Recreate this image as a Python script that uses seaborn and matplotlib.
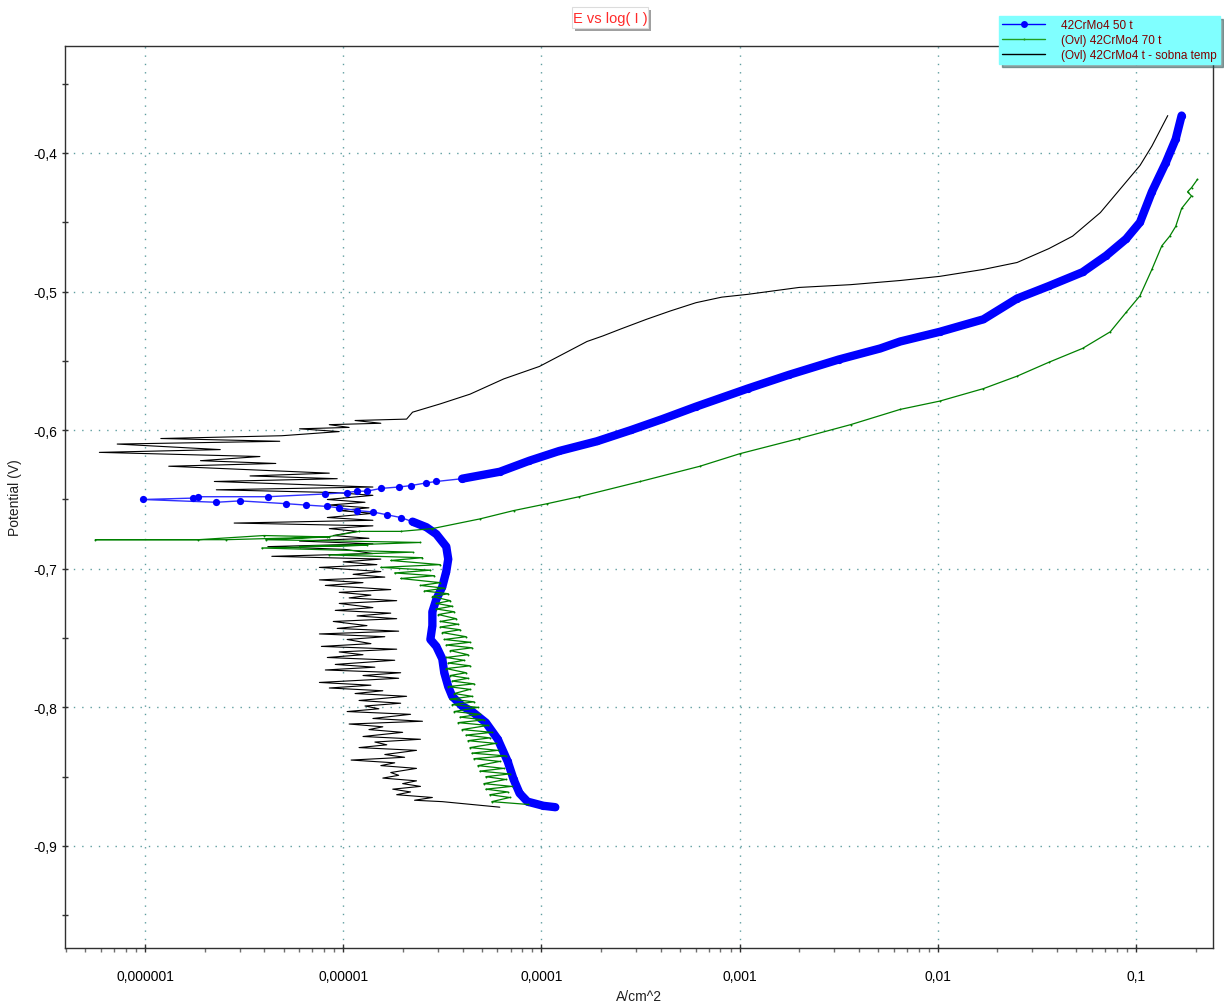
import numpy as np
import matplotlib
matplotlib.use("Agg")
import matplotlib.pyplot as plt
import seaborn as sns
from matplotlib.lines import Line2D
from matplotlib.patches import Rectangle
from matplotlib.ticker import FixedLocator, FixedFormatter, LogLocator, MultipleLocator, NullFormatter

# ---------------- data (log10 of current density in A/cm^2, potential in V) ----------------
blue_cath_logi = [-3.93, -3.99, -4.07, -4.11, -4.14, -4.17, -4.22, -4.28, -4.35, -4.40,
                  -4.45, -4.47, -4.49, -4.50, -4.53, -4.56, -4.55, -4.55, -4.53, -4.50,
                  -4.48, -4.47, -4.48, -4.53, -4.58, -4.65, -4.71, -4.78, -4.85, -4.93,
                  -5.02, -5.08, -5.19, -5.29, -5.52, -5.64, -6.01]
blue_cath_e = [-0.872, -0.871, -0.868, -0.862, -0.852, -0.839, -0.823, -0.811, -0.803, -0.799,
               -0.792, -0.785, -0.775, -0.765, -0.756, -0.751, -0.741, -0.731, -0.722, -0.713,
               -0.702, -0.693, -0.684, -0.675, -0.670, -0.666, -0.663, -0.661, -0.659, -0.658,
               -0.656, -0.655, -0.654, -0.653, -0.651, -0.652, -0.650]
blue_anod_logi = [-5.76, -5.73, -5.38, -5.09, -4.98, -4.93, -4.88, -4.81, -4.72, -4.66,
                  -4.58, -4.53, -4.40, -4.21, -4.06, -3.91, -3.72, -3.55, -3.39, -3.22,
                  -2.96, -2.75, -2.50, -2.29, -2.19, -1.99, -1.77, -1.60, -1.44, -1.27,
                  -1.15, -1.05, -0.98, -0.92, -0.85, -0.80, -0.77]
blue_anod_e = [-0.649, -0.648, -0.648, -0.646, -0.645, -0.644, -0.644, -0.642, -0.641, -0.640,
               -0.638, -0.637, -0.635, -0.630, -0.622, -0.615, -0.608, -0.600, -0.592, -0.583,
               -0.570, -0.560, -0.549, -0.541, -0.536, -0.529, -0.520, -0.505, -0.496, -0.486,
               -0.474, -0.462, -0.450, -0.428, -0.407, -0.390, -0.373]

green_logi = [-4.07, -4.25, -4.16, -4.26, -4.17, -4.28, -4.15, -4.29, -4.18, -4.28,
              -4.16, -4.31, -4.19, -4.32, -4.21, -4.34, -4.18, -4.35, -4.22, -4.36,
              -4.23, -4.37, -4.26, -4.38, -4.25, -4.40, -4.27, -4.42, -4.29, -4.41,
              -4.31, -4.44, -4.32, -4.45, -4.34, -4.46, -4.35, -4.44, -4.36, -4.47,
              -4.34, -4.45, -4.37, -4.46, -4.38, -4.48, -4.36, -4.47, -4.39, -4.48,
              -4.37, -4.46, -4.35, -4.48, -4.36, -4.49, -4.38, -4.50, -4.41, -4.51,
              -4.42, -4.51, -4.43, -4.52, -4.44, -4.53, -4.45, -4.53, -4.46, -4.55,
              -4.47, -4.59, -4.49, -4.61, -4.51, -4.71, -4.54, -4.74, -4.56, -4.81,
              -4.51, -4.76, -4.60, -5.07, -4.65, -5.41, -4.88, -5.22, -4.61, -5.39,
              -5.07, -5.59, -6.25, -5.73,
              -5.40, -5.08, -4.92, -4.71, -4.55, -4.31, -4.14, -3.97, -3.81, -3.50,
              -3.20, -3.00, -2.70, -2.44, -2.19, -1.99, -1.77, -1.60, -1.44, -1.27,
              -1.13, -1.05, -0.98, -0.92, -0.87, -0.83, -0.80, -0.77, -0.72, -0.74,
              -0.72, -0.69]
green_e = [-0.870, -0.868, -0.865, -0.863, -0.861, -0.859, -0.857, -0.855, -0.852, -0.850,
           -0.848, -0.846, -0.844, -0.842, -0.839, -0.837, -0.835, -0.833, -0.831, -0.829,
           -0.826, -0.824, -0.822, -0.820, -0.818, -0.816, -0.813, -0.811, -0.809, -0.807,
           -0.805, -0.803, -0.800, -0.798, -0.796, -0.794, -0.792, -0.790, -0.787, -0.785,
           -0.783, -0.781, -0.779, -0.777, -0.775, -0.772, -0.770, -0.768, -0.766, -0.764,
           -0.762, -0.759, -0.757, -0.755, -0.753, -0.751, -0.749, -0.746, -0.744, -0.742,
           -0.740, -0.738, -0.736, -0.733, -0.731, -0.729, -0.727, -0.725, -0.723, -0.720,
           -0.718, -0.716, -0.714, -0.712, -0.710, -0.707, -0.705, -0.703, -0.701, -0.699,
           -0.697, -0.694, -0.692, -0.690, -0.688, -0.685, -0.683, -0.684, -0.681, -0.679,
           -0.677, -0.679, -0.679, -0.679,
           -0.676, -0.677, -0.673, -0.673, -0.671, -0.664, -0.658, -0.653, -0.648, -0.637,
           -0.626, -0.617, -0.606, -0.596, -0.585, -0.579, -0.570, -0.561, -0.551, -0.541,
           -0.529, -0.515, -0.503, -0.484, -0.467, -0.460, -0.453, -0.440, -0.431, -0.428,
           -0.425, -0.419]

black_logi = [-4.21, -4.50, -4.64, -4.55, -4.73, -4.66, -4.75, -4.61, -4.70, -4.63,
              -4.80, -4.72, -4.76, -4.63, -4.81, -4.74, -4.96, -4.69, -4.79, -4.63,
              -4.92, -4.78, -4.84, -4.61, -4.90, -4.70, -4.87, -4.80, -4.97, -4.60,
              -4.85, -4.66, -4.98, -4.82, -4.89, -4.71, -4.92, -4.68, -4.94, -4.80,
              -5.07, -4.86, -5.12, -4.72, -4.90, -4.71, -5.09, -4.84, -5.04, -4.74,
              -5.08, -4.90, -5.02, -4.73, -5.11, -4.86, -4.98, -4.79, -5.12, -4.72,
              -5.03, -4.88, -5.05, -4.73, -4.93, -4.76, -5.04, -4.85, -5.02, -4.73,
              -4.97, -4.86, -5.02, -4.76, -5.09, -4.90, -5.12, -4.79, -4.95, -4.81,
              -5.12, -4.83, -5.00, -4.81, -5.36, -4.85, -4.99, -5.38, -4.85, -5.22,
              -4.87, -5.05, -4.93, -5.07, -4.85, -5.55, -4.85, -5.08, -4.85, -5.02,
              -4.87, -5.07, -4.89, -5.08, -4.85, -5.04, -5.64, -4.85, -5.65, -5.03,
              -5.47, -5.07, -5.88, -5.34, -5.72, -5.42, -6.23, -5.62, -6.14, -5.32,
              -5.92, -5.31, -5.02, -5.22, -4.97, -5.07, -4.81, -4.94, -4.68,
              -4.65, -4.51, -4.36, -4.19, -4.09, -4.01, -3.89, -3.77, -3.69, -3.60,
              -3.47, -3.35, -3.22, -3.09, -2.96, -2.70, -2.44, -2.19, -1.99, -1.77,
              -1.60, -1.44, -1.32, -1.18, -1.08, -0.98, -0.92, -0.84]
black_e = [-0.872, -0.868, -0.867, -0.865, -0.863, -0.861, -0.859, -0.857, -0.855, -0.853,
           -0.851, -0.849, -0.847, -0.844, -0.842, -0.840, -0.838, -0.836, -0.834, -0.831,
           -0.829, -0.827, -0.825, -0.823, -0.821, -0.818, -0.816, -0.814, -0.812, -0.810,
           -0.808, -0.805, -0.803, -0.801, -0.799, -0.797, -0.795, -0.792, -0.790, -0.788,
           -0.786, -0.784, -0.782, -0.779, -0.777, -0.775, -0.773, -0.771, -0.769, -0.766,
           -0.764, -0.762, -0.760, -0.758, -0.756, -0.754, -0.751, -0.749, -0.747, -0.745,
           -0.743, -0.741, -0.738, -0.736, -0.734, -0.732, -0.730, -0.728, -0.725, -0.723,
           -0.721, -0.719, -0.717, -0.715, -0.712, -0.710, -0.708, -0.706, -0.704, -0.702,
           -0.699, -0.697, -0.695, -0.693, -0.691, -0.689, -0.686, -0.684, -0.682, -0.680,
           -0.678, -0.676, -0.673, -0.671, -0.669, -0.667, -0.665, -0.663, -0.660, -0.658,
           -0.656, -0.654, -0.652, -0.650, -0.647, -0.645, -0.643, -0.641, -0.637, -0.635,
           -0.633, -0.631, -0.626, -0.624, -0.622, -0.619, -0.616, -0.614, -0.610, -0.608,
           -0.606, -0.604, -0.601, -0.599, -0.598, -0.596, -0.595, -0.593, -0.592,
           -0.587, -0.581, -0.574, -0.563, -0.558, -0.554, -0.545, -0.536, -0.532, -0.527,
           -0.520, -0.514, -0.508, -0.504, -0.502, -0.497, -0.495, -0.492, -0.489, -0.484,
           -0.479, -0.469, -0.460, -0.443, -0.426, -0.409, -0.395, -0.373]

series_labels = ["42CrMo4 50 t", "(Ovl) 42CrMo4 70 t", "(Ovl) 42CrMo4 t - sobna temp"]
x_tick_values = [1e-6, 1e-5, 1e-4, 1e-3, 1e-2, 1e-1]
x_tick_labels = ["0,000001", "0,00001", "0,0001", "0,001", "0,01", "0,1"]
y_tick_values = [-0.9, -0.8, -0.7, -0.6, -0.5, -0.4]
y_tick_labels = ["-0,9", "-0,8", "-0,7", "-0,6", "-0,5", "-0,4"]

# ---------------- style ----------------
sns.set_theme(style="white")
plt.rcParams["font.family"] = ["Liberation Sans", "DejaVu Sans"]

BLUE = "#0000ff"
GREEN = "#008000"
BLACK = "#000000"
AXC = "#303030"

W, H = 1224, 1003
fig = plt.figure(figsize=(W / 100, H / 100), dpi=100, facecolor="white")
ax = fig.add_axes([65 / W, 1 - 949 / H, (1213 - 65) / W, (949 - 47) / H])
ax.set_facecolor("white")


def line(logi, e, **kw):
    sns.lineplot(x=10 ** np.asarray(logi, dtype=float), y=np.asarray(e, dtype=float),
                 sort=False, estimator=None, errorbar=None, ax=ax, **kw)


# black (room temperature)
line(black_logi, black_e, color=BLACK, linewidth=0.8, zorder=3)

# blue: full path with markers, plus dense parts drawn as thick strokes
blue_logi = blue_cath_logi + blue_anod_logi
blue_e = blue_cath_e + blue_anod_e
line(blue_logi, blue_e, color="#3030ff", linewidth=1.0, marker="o", markersize=5.2,
     markerfacecolor=BLUE, markeredgecolor=BLUE, markeredgewidth=0, zorder=4)
line(blue_cath_logi[:26], blue_cath_e[:26], color=BLUE, linewidth=6.0,
     solid_capstyle="round", solid_joinstyle="round", zorder=4)
line(blue_anod_logi[12:], blue_anod_e[12:], color=BLUE, linewidth=6.0,
     solid_capstyle="round", solid_joinstyle="round", zorder=4)

# green (70 t)
line(green_logi, green_e, color=GREEN, linewidth=0.9, marker="o", markersize=1.4,
     markeredgewidth=0, markerfacecolor=GREEN, zorder=5)

# ---------------- axes ----------------
ax.set_xscale("log")
ax.set_xlim(3.95e-7, 0.2445)
ax.set_ylim(-0.9736, -0.3228)

ax.xaxis.set_major_locator(FixedLocator(x_tick_values))
ax.xaxis.set_major_formatter(FixedFormatter(x_tick_labels))
ax.xaxis.set_minor_locator(LogLocator(base=10, subs=np.arange(2, 10), numticks=30))
ax.xaxis.set_minor_formatter(NullFormatter())
ax.yaxis.set_major_locator(FixedLocator(y_tick_values))
ax.yaxis.set_major_formatter(FixedFormatter(y_tick_labels))
ax.yaxis.set_minor_locator(MultipleLocator(0.05))

ax.tick_params(axis="x", which="major", direction="inout", length=6, width=1, color=AXC,
               labelsize=10, pad=12, labelcolor="black", bottom=True)
ax.tick_params(axis="x", which="minor", direction="out", length=3, width=1, color="#707070",
               bottom=True)
ax.tick_params(axis="y", which="both", direction="inout", length=5, width=1, color=AXC,
               labelsize=10, pad=3, labelcolor="black", left=True)

ax.grid(True, which="major", color="#5f9ea0", linestyle=(0, (1, 5)), linewidth=1.0)
ax.set_axisbelow(True)
for s in ax.spines.values():
    s.set_color(AXC)
    s.set_linewidth(1.0)
    s.set_visible(True)

ax.set_xlabel("A/cm^2", fontsize=10, color="#202020")
ax.set_ylabel("Potential (V)", fontsize=10, color="#202020")
ax.xaxis.set_label_coords(0.5, (949 - 990) / 902)
ax.yaxis.set_label_coords((22 - 65) / 1148, 0.5)

# ---------------- legend ----------------
handles = [
    Line2D([], [], color=BLUE, linewidth=1, marker="o", markersize=5, markeredgewidth=0),
    Line2D([], [], color="#20a020", linewidth=1, marker="o", markersize=1.5, markeredgewidth=0),
    Line2D([], [], color=BLACK, linewidth=1),
]
leg = ax.legend(handles, series_labels, loc="upper right",
                bbox_to_anchor=(1220 / W, 1 - 17 / H), bbox_transform=fig.transFigure,
                frameon=True, fancybox=False, shadow=True, framealpha=1,
                facecolor="#80ffff", edgecolor="#80ffff", fontsize=8.5,
                labelcolor="#800000", handlelength=3.6, handletextpad=1.4,
                labelspacing=0.27, borderpad=0.25, borderaxespad=0)
leg.set_zorder(20)

# ---------------- title box ----------------
fig.add_artist(Rectangle((575 / W, 1 - 32 / H), 76 / W, 21 / H, transform=fig.transFigure,
                         facecolor="#a0a0a0", edgecolor="none", zorder=10))
fig.add_artist(Rectangle((572 / W, 1 - 29 / H), 76 / W, 21 / H, transform=fig.transFigure,
                         facecolor="white", edgecolor="#dcdcdc", linewidth=0.8, zorder=11))
fig.text(610 / W, 1 - 19 / H, "E vs log( I )", color="#ff2a2a", fontsize=10.5,
         ha="center", va="center", zorder=12)

fig.savefig("out.png", dpi=100, facecolor="white")
